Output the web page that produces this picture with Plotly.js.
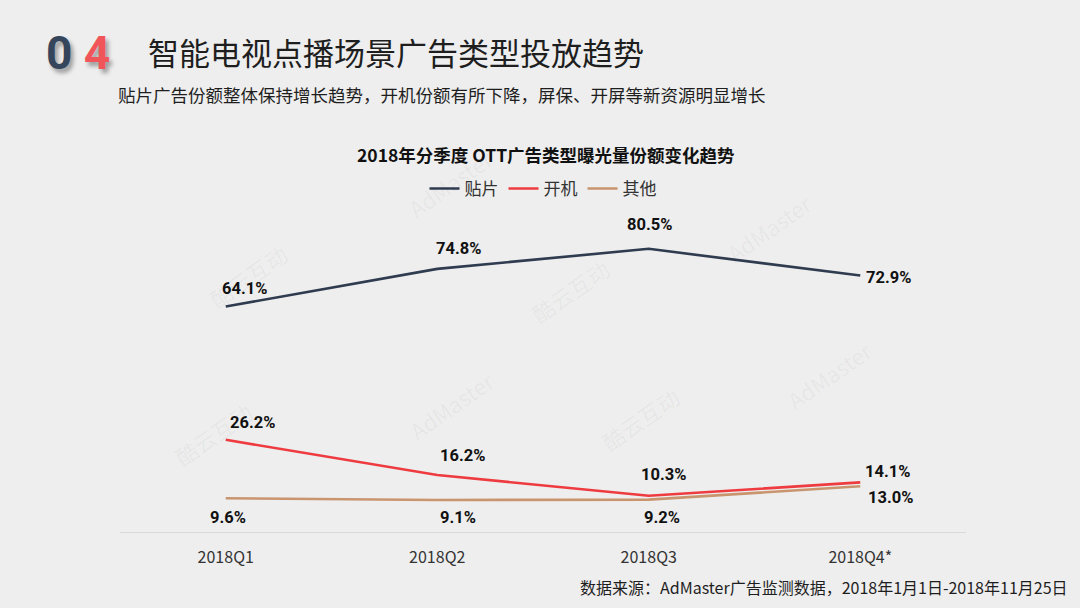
<!DOCTYPE html>
<html><head><meta charset="utf-8">
<script src="https://cdn.plot.ly/plotly-3.0.1.min.js"></script>
<style>html,body{margin:0;padding:0;background:#eeeeee;}#chart{width:1080px;height:608px;}</style>
</head><body><div id="chart"></div>
<script>
const quarters = ["2018Q1","2018Q2","2018Q3","2018Q4*"];
const tiepian = [64.1, 74.8, 80.5, 72.9];
const kaiji = [26.2, 16.2, 10.3, 14.1];
const qita = [9.6, 9.1, 9.2, 13.0];
const seriesNames = ["贴片","开机","其他"];
const colors = ["#2f3b4f","#ee3b40","#c9956f"];

const W=1080,H=608, L=120, R=114, T=233, B=76;
const pw=W-L-R, ph=H-T-B;
const px=(x)=>(x-L)/pw, py=(y)=>(H-B-y)/ph;

const series=[tiepian,kaiji,qita];
const traces=series.map((v,i)=>({
  x:quarters,y:v,type:"scatter",mode:"lines",name:seriesNames[i],
  line:{color:colors[i],width:2.6},hoverinfo:"skip"
}));

const offs=[
  [[19,18],[21,20],[1,24],[28,-2]],
  [[27,17],[25,20],[15,21],[27,11]],
  [[2,-19],[21,-18],[13,-18],[30,-11]]
];
const labelFont={family:"Roboto, Liberation Sans, sans-serif",size:16.5,color:"#111",weight:"bold"};
const ann=[];
series.forEach((v,i)=>v.forEach((val,j)=>{
  ann.push({x:quarters[j],y:val,xref:"x",yref:"y",text:val.toFixed(1)+"%",showarrow:false,
    xshift:offs[i][j][0],yshift:offs[i][j][1],font:labelFont});
}));
ann.push({xref:"paper",yref:"paper",x:px(44),y:py(53),xanchor:"left",yanchor:"middle",showarrow:false,
  text:"<span style='color:#35455c'>0</span> <span style='color:#f0555a'>4</span>",
  font:{family:"Roboto, sans-serif",size:46,weight:"bold",shadow:"3px 4px 4px rgba(0,0,0,0.35)"}});
ann.push({xref:"paper",yref:"paper",x:px(146),y:py(51),xanchor:"left",yanchor:"middle",showarrow:false,
  text:"智能电视点播场景广告类型投放趋势",font:{family:"Noto Sans CJK SC, sans-serif",size:31,color:"#1e1e1e"}});
ann.push({xref:"paper",yref:"paper",x:px(116),y:py(94),xanchor:"left",yanchor:"middle",showarrow:false,
  text:"贴片广告份额整体保持增长趋势，开机份额有所下降，屏保、开屏等新资源明显增长",font:{family:"Noto Sans CJK SC, sans-serif",size:17.5,color:"#1e1e1e"}});
ann.push({xref:"paper",yref:"paper",x:px(546),y:py(154),xanchor:"center",yanchor:"middle",showarrow:false,
  text:"<b>2018年分季度 OTT广告类型曝光量份额变化趋势</b>",font:{family:"Noto Sans CJK SC, sans-serif",size:17.5,color:"#111"}});
ann.push({xref:"paper",yref:"paper",x:px(1070),y:py(587),xanchor:"right",yanchor:"middle",showarrow:false,
  text:"数据来源：AdMaster广告监测数据，2018年1月1日-2018年11月25日",font:{family:"Noto Sans CJK SC, sans-serif",size:16,color:"#1e1e1e"}});
const wm=[["AdMaster",450,140],["AdMaster",820,185],["酷云互动",200,235],["酷云互动",570,250],["AdMaster",880,375],["AdMaster",400,405],["酷云互动",165,475],["酷云互动",640,460]];
wm.forEach(w=>ann.push({xref:"paper",yref:"paper",x:px(w[1]),y:py(w[2]),showarrow:false,textangle:-35,
  text:w[0],font:{family:"Noto Sans CJK SC, sans-serif",size:22,color:"rgba(0,0,0,0.045)"}}));

const layout={
  width:W,height:H,paper_bgcolor:"#eeeeee",plot_bgcolor:"#eeeeee",
  margin:{l:L,r:R,t:T,b:B},
  showlegend:true,
  legend:{orientation:"h",x:0.5,xanchor:"center",y:py(189),yanchor:"middle",
    font:{family:"Noto Sans CJK SC, sans-serif",size:17,color:"#333"},bgcolor:"rgba(0,0,0,0)",itemwidth:30},
  xaxis:{type:"category",range:[-0.5,3.5],showgrid:false,zeroline:false,showline:true,linecolor:"#d8d8d8",linewidth:1,
    ticks:"",tickfont:{family:"Noto Sans CJK SC, Noto Sans, sans-serif",size:16,color:"#333"},ticklabelstandoff:11},
  yaxis:{range:[0,85],visible:false,fixedrange:true},
  annotations:ann
};
Plotly.newPlot("chart",traces,layout,{displayModeBar:false,staticPlot:true});
</script></body></html>
